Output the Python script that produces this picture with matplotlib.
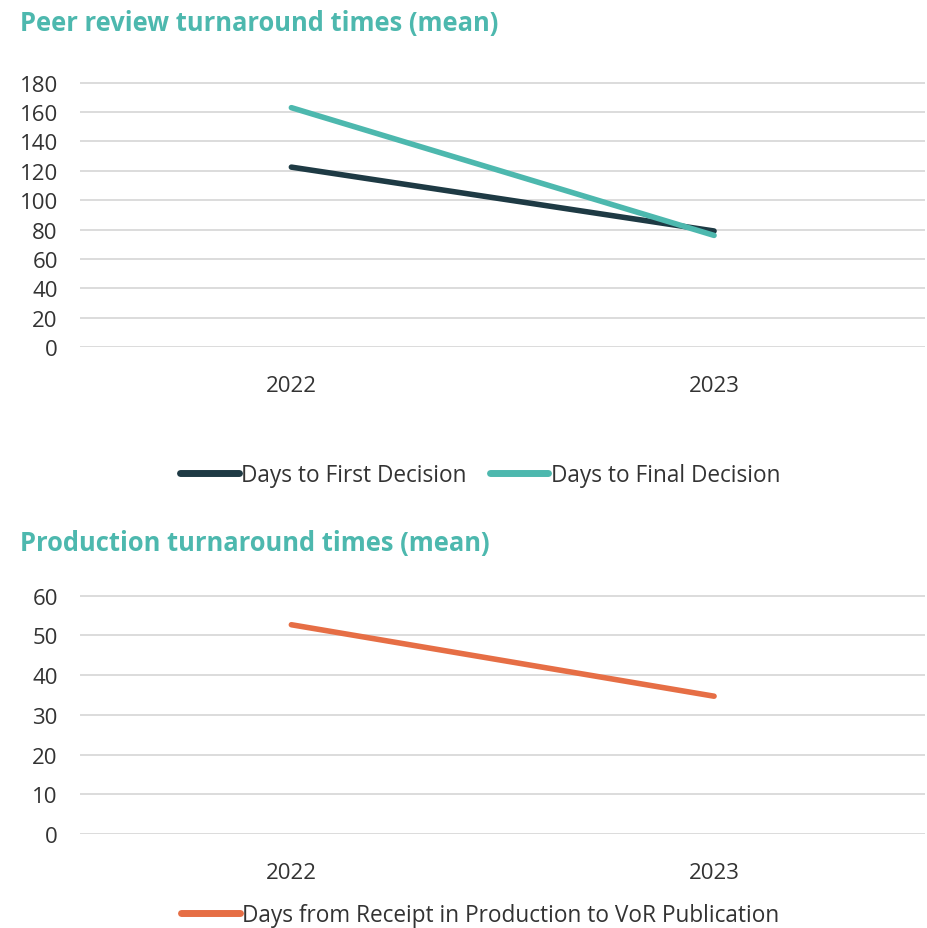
import matplotlib
matplotlib.use("Agg")
import matplotlib.pyplot as plt

years = ["2022", "2023"]
first_decision = [122.5, 79]
final_decision = [163, 76]
production = [52.7, 34.7]

plt.rcParams['font.family'] = ['Open Sans', 'DejaVu Sans']

TEAL = "#4DB8AE"
DARK = "#1E3A44"
ORANGE = "#E66E45"
GRID = "#D9D9D9"
TEXT = "#333333"

fig = plt.figure(figsize=(9.27, 9.29), dpi=100)

def style(ax, ymax, step):
    ax.set_xlim(-0.5, 1.5)
    ax.set_ylim(0, ymax)
    ax.set_yticks(range(0, ymax + 1, step))
    ax.set_xticks(range(len(years)))
    ax.set_xticklabels(years)
    for s in ax.spines.values():
        s.set_visible(False)
    ax.grid(axis='y', color=GRID, linewidth=1.3)
    ax.set_axisbelow(True)
    ax.tick_params(axis='both', length=0, labelsize=16, colors=TEXT)
    ax.tick_params(axis='y', pad=16)
    ax.tick_params(axis='x', pad=20)

ax1 = fig.add_axes([0.0863, 0.6254, 0.912, 0.2853])
x = range(len(years))
ax1.plot(x, first_decision, color=DARK, lw=4, solid_capstyle='round', label="Days to First Decision")
ax1.plot(x, final_decision, color=TEAL, lw=4, solid_capstyle='round', label="Days to Final Decision")
style(ax1, 180, 20)
ax1.set_ylim(0, 180.5)
fig.text(0.022, 0.975, "Peer review turnaround times (mean)", color=TEAL,
         fontsize=18.4, fontweight='bold', va='center', ha='left')
leg1 = fig.legend(handles=ax1.get_lines(), loc='center', bbox_to_anchor=(0.518, 0.488),
                  ncol=2, frameon=False, fontsize=16.3, handlelength=2.6,
                  handletextpad=0.1, columnspacing=1.0, labelcolor=TEXT)
for h in leg1.legend_handles:
    h.set_linewidth(5)
    h.set_solid_capstyle('round')

ax2 = fig.add_axes([0.0863, 0.1012, 0.912, 0.2573])
ax2.plot(x, production, color=ORANGE, lw=4, solid_capstyle='round',
         label="Days from Receipt in Production to VoR Publication")
style(ax2, 60, 10)
ax2.set_ylim(0, 60.2)
fig.text(0.022, 0.415, "Production turnaround times (mean)", color=TEAL,
         fontsize=18.4, fontweight='bold', va='center', ha='left')
leg2 = fig.legend(handles=ax2.get_lines(), loc='center', bbox_to_anchor=(0.518, 0.014),
                  ncol=1, frameon=False, fontsize=16.3, handlelength=2.6,
                  handletextpad=0.1, labelcolor=TEXT)
for h in leg2.legend_handles:
    h.set_linewidth(5)
    h.set_solid_capstyle('round')

fig.savefig("out.png", dpi=100, facecolor='white')
